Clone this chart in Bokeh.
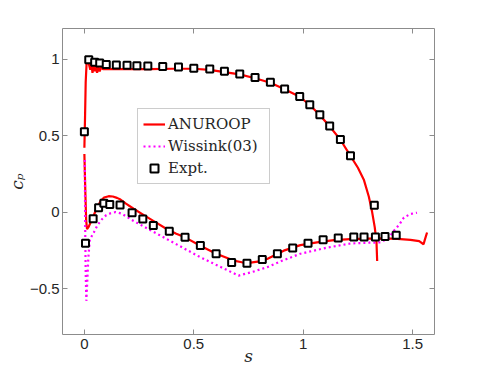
from bokeh.plotting import figure
from bokeh.models import LinearAxis, FixedTicker, Legend, LegendItem, Range1d
from bokeh.embed import file_html
from bokeh.resources import INLINE

x_ticks = [0, 0.5, 1, 1.5]
x_tick_labels = ["0", "0.5", "1", "1.5"]
y_ticks = [-0.5, 0, 0.5, 1]
y_tick_labels = ["\u22120.5", "0", "0.5", "1"]

anuroop_upper_s = [0.0, 0.003, 0.006, 0.01, 0.016, 0.022, 0.027, 0.032, 0.037, 0.042, 0.047, 0.052,
                   0.058, 0.064, 0.07, 0.076, 0.085, 0.1, 0.15, 0.2, 0.3, 0.4, 0.5, 0.573, 0.64,
                   0.71, 0.78, 0.85, 0.915, 0.984, 1.03, 1.076, 1.121, 1.17, 1.216, 1.25, 1.277,
                   1.3, 1.315, 1.327, 1.335, 1.338]
anuroop_upper_cp = [0.42, 0.62, 0.85, 0.97, 0.995, 0.96, 0.93, 0.97, 0.91, 0.96, 0.92, 0.955,
                    0.91, 0.95, 0.92, 0.945, 0.935, 0.935, 0.935, 0.935, 0.935, 0.937, 0.937, 0.93,
                    0.915, 0.9, 0.875, 0.845, 0.803, 0.754, 0.7, 0.635, 0.56, 0.473, 0.368, 0.29,
                    0.212, 0.1, 0.0, -0.1, -0.2, -0.32]

anuroop_lower_s = [0.0, 0.004, 0.008, 0.012, 0.02, 0.035, 0.055, 0.073, 0.09, 0.111, 0.13, 0.149,
                   0.165, 0.19, 0.225, 0.27, 0.315, 0.378, 0.42, 0.46, 0.53, 0.6, 0.682, 0.72,
                   0.759, 0.8, 0.835, 0.911, 0.987, 1.063, 1.14, 1.216, 1.29, 1.368, 1.43, 1.49,
                   1.53, 1.55, 1.556, 1.566]
anuroop_lower_cp = [0.38, 0.15, -0.05, -0.112, -0.095, -0.047, 0.02, 0.07, 0.095, 0.104, 0.102,
                    0.093, 0.082, 0.055, 0.022, -0.018, -0.057, -0.112, -0.142, -0.165, -0.22,
                    -0.27, -0.317, -0.328, -0.33, -0.322, -0.306, -0.252, -0.216, -0.198, -0.183,
                    -0.177, -0.174, -0.172, -0.175, -0.181, -0.19, -0.21, -0.18, -0.133]

wissink_s = [0.002, 0.003, 0.004, 0.006, 0.009, 0.013, 0.018, 0.025, 0.043, 0.06, 0.08, 0.1,
             0.119, 0.142, 0.17, 0.225, 0.3, 0.378, 0.45, 0.53, 0.62, 0.705, 0.77, 0.835, 0.9,
             0.987, 1.1, 1.216, 1.3, 1.353, 1.39, 1.414, 1.44, 1.46, 1.49, 1.52]
wissink_cp = [0.34, 0.1, -0.15, -0.4, -0.58, -0.46, -0.3, -0.18, -0.133, -0.085, -0.047, -0.02,
              -0.008, 0.0, -0.01, -0.058, -0.117, -0.177, -0.233, -0.295, -0.357, -0.415, -0.39,
              -0.36, -0.32, -0.272, -0.235, -0.205, -0.2, -0.198, -0.17, -0.123, -0.08, -0.036,
              -0.012, -0.004]

expt_upper_s = [0.0, 0.02, 0.047, 0.07, 0.1, 0.146, 0.195, 0.24, 0.29, 0.358, 0.43, 0.5, 0.573,
                0.64, 0.71, 0.78, 0.85, 0.915, 0.984, 1.03, 1.076, 1.121, 1.17, 1.216, 1.325]
expt_upper_cp = [0.525, 0.995, 0.98, 0.974, 0.965, 0.961, 0.959, 0.957, 0.955, 0.952, 0.948,
                 0.94, 0.935, 0.92, 0.903, 0.88, 0.848, 0.805, 0.756, 0.702, 0.637, 0.562, 0.475,
                 0.369, 0.045]
expt_lower_s = [0.005, 0.04, 0.065, 0.089, 0.116, 0.163, 0.218, 0.267, 0.315, 0.388, 0.46, 0.53,
                0.602, 0.673, 0.743, 0.813, 0.882, 0.952, 1.022, 1.091, 1.16, 1.231, 1.278, 1.33,
                1.374, 1.425]
expt_lower_cp = [-0.203, -0.043, 0.028, 0.058, 0.05, 0.046, -0.004, -0.045, -0.088, -0.125, -0.164,
                 -0.218, -0.272, -0.33, -0.334, -0.31, -0.272, -0.235, -0.203, -0.181, -0.17,
                 -0.162, -0.162, -0.162, -0.16, -0.151]

AX_COL = "#8c8c8c"
TXT_COL = "#262626"

p = figure(width=470, height=368, x_range=Range1d(-0.1, 1.6), y_range=Range1d(-0.8, 1.2),
           output_backend="svg", toolbar_location=None,
           min_border_left=62, min_border_right=36, min_border_top=28, min_border_bottom=34)
p.xgrid.visible = False
p.ygrid.visible = False
p.outline_line_color = None
p.background_fill_color = "white"
p.border_fill_color = "white"


def style_axis(ax, ticks, labels, show):
    ax.ticker = FixedTicker(ticks=ticks)
    ax.major_tick_in = 5
    ax.major_tick_out = 0
    ax.minor_tick_in = 0
    ax.minor_tick_out = 0
    ax.axis_line_color = AX_COL
    ax.major_tick_line_color = AX_COL
    ax.major_label_text_font = "Liberation Sans"
    if show:
        ax.major_label_overrides = {t: l for t, l in zip(ticks, labels)}
        ax.major_label_text_color = TXT_COL
        ax.major_label_text_font_size = "15px"
    else:
        ax.major_label_text_color = None
        ax.major_label_text_font_size = "0px"
        ax.major_label_standoff = 0


style_axis(p.xaxis[0], x_ticks, x_tick_labels, True)
style_axis(p.yaxis[0], y_ticks, y_tick_labels, True)
p.xaxis[0].major_label_standoff = 4
p.yaxis[0].major_label_standoff = 3

p.xaxis[0].axis_label = "s"
p.yaxis[0].axis_label = "c\u209a"
for ax in (p.xaxis[0], p.yaxis[0]):
    ax.axis_label_text_font = "DejaVu Serif"
    ax.axis_label_text_font_style = "italic"
    ax.axis_label_text_font_size = "17px"
    ax.axis_label_text_color = TXT_COL
p.xaxis[0].axis_label_standoff = -6
p.yaxis[0].axis_label_standoff = 0

top_ax = LinearAxis()
right_ax = LinearAxis()
style_axis(top_ax, x_ticks, x_tick_labels, False)
style_axis(right_ax, y_ticks, y_tick_labels, False)
p.add_layout(top_ax, "above")
p.add_layout(right_ax, "right")

r_up = p.line(anuroop_upper_s, anuroop_upper_cp, line_color="#ff0000", line_width=2.2)
r_lo = p.line(anuroop_lower_s, anuroop_lower_cp, line_color="#ff0000", line_width=2.2)
r_w = p.line(wissink_s, wissink_cp, line_color="#ff00ff", line_width=2.2, line_dash="2 3")
r_e = p.scatter(expt_upper_s + expt_lower_s, expt_upper_cp + expt_lower_cp, marker="square",
                size=7, line_color="black", line_width=2, fill_color="white")

legend = Legend(items=[LegendItem(label="ANUROOP", renderers=[r_up]),
                       LegendItem(label="Wissink(03)", renderers=[r_w]),
                       LegendItem(label="Expt.", renderers=[r_e])],
                location=(75, 150), margin=0, padding=5, spacing=2,
                glyph_width=22, glyph_height=20, label_standoff=3,
                label_width=96, label_height=20,
                label_text_font="DejaVu Serif", label_text_font_size="15px",
                label_text_color=TXT_COL,
                border_line_color="#9a9a9a", border_line_width=1,
                background_fill_color="white", background_fill_alpha=1.0)
p.add_layout(legend)

open("out.html", "w").write(file_html(p, INLINE))
